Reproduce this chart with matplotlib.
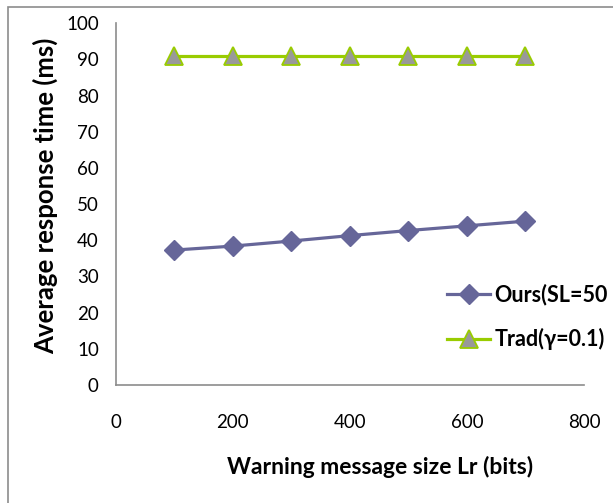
import matplotlib.pyplot as plt
from matplotlib.patches import Rectangle

plt.rcParams['font.family'] = ['Lato', 'DejaVu Sans']

# warning message size (bits) and mean response time (ms)
msg_size = [100, 200, 300, 400, 500, 600, 700]
ours = [37.3, 38.4, 39.8, 41.3, 42.7, 44.0, 45.3]
trad = [91, 91, 91, 91, 91, 91, 91]

x_ticks = [0, 200, 400, 600, 800]
y_ticks = [0, 10, 20, 30, 40, 50, 60, 70, 80, 90, 100]


def main():
    fig = plt.figure(figsize=(6.13, 5.03), dpi=100)
    W, H = 613, 503
    ax = fig.add_axes([115.5 / W, (H - 385) / H, (584 - 115.5) / W, (385 - 23.3) / H])

    # thin frame around the whole chart area
    fig.patches.append(Rectangle((8 / W, -0.1), 1.2, (H - 7) / H + 0.1,
                                 transform=fig.transFigure, fill=False,
                                 edgecolor='#8c8c8c', linewidth=1.2))

    ax.plot(msg_size, ours, color='#666699', linewidth=2.3, marker='D',
            markersize=10.5, markerfacecolor='#666699', markeredgecolor='#666699',
            label='Ours(SL=50')
    ax.plot(msg_size, trad, color='#99cc00', linewidth=2.3, marker='^',
            markersize=12.5, markerfacecolor='#999999', markeredgecolor='#99cc00',
            markeredgewidth=1.3, label='Trad(γ=0.1)')

    ax.set_xlim(0, 800)
    ax.set_ylim(0, 100)
    ax.set_xticks(x_ticks)
    ax.set_yticks(y_ticks)
    ax.tick_params(axis='both', length=0, labelsize=13.5, colors='black')
    ax.tick_params(axis='x', pad=21)
    ax.tick_params(axis='y', pad=12)

    for side in ['top', 'right']:
        ax.spines[side].set_visible(False)
    for side in ['left', 'bottom']:
        ax.spines[side].set_color('#8c8c8c')
        ax.spines[side].set_linewidth(1.2)

    ax.set_xlabel('Warning message size Lr (bits)', fontsize=16.5, fontweight='bold')
    ax.set_ylabel('Average response time (ms)', fontsize=18.5, fontweight='bold')
    ax.xaxis.label.set_va('center')
    ax.yaxis.label.set_va('center')
    ax.xaxis.set_label_coords(0.565, -0.227)
    ax.yaxis.set_label_coords(-0.150, 0.522)

    fig.legend(loc='center left', bbox_to_anchor=(447 / W, 1 - 317 / H),
               frameon=False, prop={'weight': 'bold', 'size': 15.5},
               borderpad=0, borderaxespad=0,
               handlelength=2.0, handletextpad=0.2, labelspacing=1.05)

    fig.savefig('out.png', dpi=100)


if __name__ == "__main__":
    main()
